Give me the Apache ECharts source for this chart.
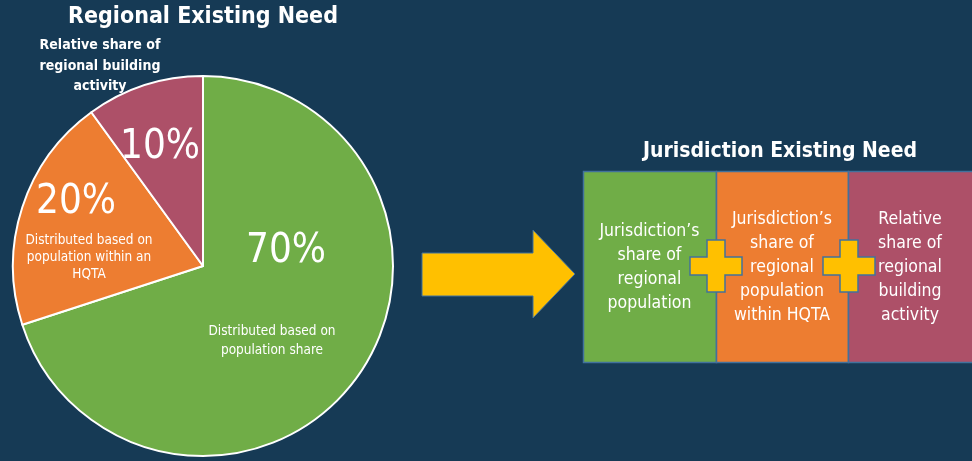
<!DOCTYPE html>
<html><head><meta charset="utf-8">
<script src="https://cdn.jsdelivr.net/npm/echarts@6/dist/echarts.min.js"></script>
<style>html,body{margin:0;padding:0;background:#163A55;}#c{width:972px;height:461px;}</style>
</head><body><div id="c"></div>
<script>
const sliceNames = ['Distributed based on population share', 'Distributed based on population within an HQTA', 'Relative share of regional building activity'];
const sliceValues = [70, 20, 10];
const sliceColors = ['#70AD47', '#ED7D31', '#AD5068'];
const boxLabels = ["Jurisdiction’s\nshare of\nregional\npopulation", "Jurisdiction’s\nshare of\nregional\npopulation\nwithin HQTA", "Relative\nshare of\nregional\nbuilding\nactivity"];

const FONT = '"Liberation Sans Narrow", "DejaVu Sans Condensed", "Liberation Sans", sans-serif';
const chart = echarts.init(document.getElementById('c'), null, {renderer: 'canvas'});

function txt(x, y, text, size, weight, align, lh) {
  return {type: 'text', x: x, y: y, z: 100, silent: true,
    style: {text: text, fill: '#fff', font: (weight || 'normal') + ' ' + size + 'px ' + FONT,
      align: align || 'center', verticalAlign: 'middle', lineHeight: lh || size * 1.2}};
}

const boxX = [583, 716, 848, 975];
const graphics = [];
graphics.push(txt(203, 17, 'Regional Existing Need', 23, 'bold'));
graphics.push(txt(100, 66, 'Relative share of\nregional building\nactivity', 14, 'bold', 'center', 20.5));
graphics.push(txt(160, 148, sliceValues[2] + '%', 40));
graphics.push(txt(76, 203, sliceValues[1] + '%', 40));
graphics.push(txt(286, 252, sliceValues[0] + '%', 40));
graphics.push(txt(89, 257, 'Distributed based on\npopulation within an\nHQTA', 13.5, 'normal', 'center', 17));
graphics.push(txt(272, 341, 'Distributed based on\npopulation share', 13.5, 'normal', 'center', 19));
graphics.push({type: 'polygon', z: 50, shape: {points: [[422, 253], [533, 253], [533, 230], [575, 274], [533, 318], [533, 296], [422, 296]]},
  style: {fill: '#FFC000', stroke: '#41719C', lineWidth: 1}});
graphics.push(txt(780, 152, 'Jurisdiction Existing Need', 21, 'bold'));
for (let i = 0; i < 3; i++) {
  graphics.push({type: 'rect', z: 50, shape: {x: boxX[i] + 0.5, y: 171.5, width: boxX[i + 1] - boxX[i], height: 191},
    style: {fill: sliceColors[i], stroke: '#41719C', lineWidth: 1.5}});
}
for (let i = 0; i < 3; i++) {
  graphics.push(txt((boxX[i] + Math.min(boxX[i + 1], 972)) / 2, 267, boxLabels[i], 17.5, 'normal', 'center', 24));
}
[716, 849].forEach(function (cx) {
  const cy = 266, a = 26, t = 9;
  graphics.push({type: 'polygon', z: 120, shape: {points: [
    [cx - t, cy - a], [cx + t, cy - a], [cx + t, cy - t], [cx + a, cy - t], [cx + a, cy + t], [cx + t, cy + t],
    [cx + t, cy + a], [cx - t, cy + a], [cx - t, cy + t], [cx - a, cy + t], [cx - a, cy - t], [cx - t, cy - t]]},
    style: {fill: '#FFC000', stroke: '#41719C', lineWidth: 1.5}});
});

chart.setOption({
  backgroundColor: '#163A55',
  animation: false,
  series: [{
    type: 'pie',
    center: [203, 266],
    radius: [0, 190],
    startAngle: 90,
    clockwise: true,
    silent: true,
    z: 2,
    label: {show: false},
    labelLine: {show: false},
    itemStyle: {borderColor: '#ffffff', borderWidth: 2},
    data: sliceNames.map(function (n, i) { return {name: n, value: sliceValues[i], itemStyle: {color: sliceColors[i]}}; })
  }],
  graphic: {elements: graphics}
});
</script></body></html>
